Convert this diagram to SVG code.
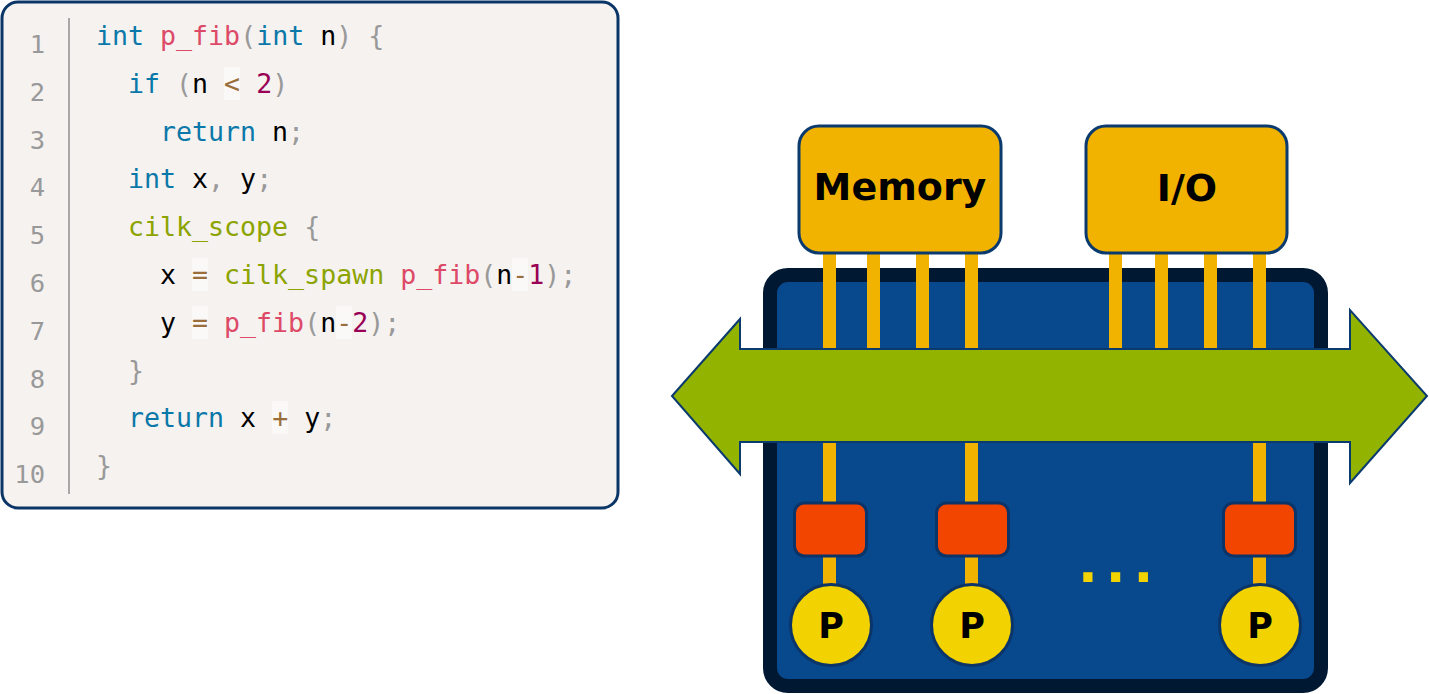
<svg xmlns="http://www.w3.org/2000/svg" width="1429" height="694" viewBox="0 0 1429 694">
<style>
.code{font-family:"DejaVu Sans Mono","Liberation Mono",monospace;font-size:26.6px;fill:#000}
.ln{font-family:"DejaVu Sans Mono","Liberation Mono",monospace;font-size:25.5px;fill:#999;text-anchor:end}
.kw{fill:#0a78a8}.fn{fill:#dd4a68}.pu{fill:#999}.op{fill:#9a6e3a}.nu{fill:#990055}.ck{fill:#8da400}
.hl{fill:#ffffff;fill-opacity:0.55}
.pin{fill:#f2b300}
.box{fill:#f2b300;stroke:#0a3a6e;stroke-width:3}
.lbl{font-family:"DejaVu Sans",sans-serif;font-weight:bold;font-size:38px;fill:#000;text-anchor:middle}
.cache{fill:#f24500;stroke:#0b3468;stroke-width:3}
.cpu{fill:#f2d200;stroke:#0b3468;stroke-width:3}
.p{font-family:"DejaVu Sans",sans-serif;font-weight:bold;font-size:35px;fill:#000;text-anchor:middle}
</style>
<g id="code">
<rect x="2" y="2" width="616" height="506" rx="16" fill="#f5f2f0" stroke="#0a3566" stroke-width="3"/>
<line x1="69" y1="18" x2="69" y2="494" stroke="#a8a8a8" stroke-width="2"/>
<g>
<text class="ln" x="45" y="53">1</text>
<text class="ln" x="45" y="101">2</text>
<text class="ln" x="45" y="149">3</text>
<text class="ln" x="45" y="196">4</text>
<text class="ln" x="45" y="244">5</text>
<text class="ln" x="45" y="292">6</text>
<text class="ln" x="45" y="340">7</text>
<text class="ln" x="45" y="388">8</text>
<text class="ln" x="45" y="435">9</text>
<text class="ln" x="45" y="483">10</text>
</g>
<rect class="hl" x="224" y="67" width="16" height="33"/>
<rect class="hl" x="192" y="258" width="16" height="33"/>
<rect class="hl" x="512" y="258" width="16" height="33"/>
<rect class="hl" x="192" y="306" width="16" height="33"/>
<rect class="hl" x="336" y="306" width="16" height="33"/>
<rect class="hl" x="272" y="401" width="16" height="33"/>
<text class="code" xml:space="preserve" x="96" y="45"><tspan class="kw">int</tspan> <tspan class="fn">p_fib</tspan><tspan class="pu">(</tspan><tspan class="kw">int</tspan> n<tspan class="pu">)</tspan> <tspan class="pu">{</tspan></text>
<text class="code" xml:space="preserve" x="128" y="93"><tspan class="kw">if</tspan> <tspan class="pu">(</tspan>n <tspan class="op">&lt;</tspan> <tspan class="nu">2</tspan><tspan class="pu">)</tspan></text>
<text class="code" xml:space="preserve" x="160" y="141"><tspan class="kw">return</tspan> n<tspan class="pu">;</tspan></text>
<text class="code" xml:space="preserve" x="128" y="188"><tspan class="kw">int</tspan> x<tspan class="pu">,</tspan> y<tspan class="pu">;</tspan></text>
<text class="code" xml:space="preserve" x="128" y="236"><tspan class="ck">cilk_scope</tspan> <tspan class="pu">{</tspan></text>
<text class="code" xml:space="preserve" x="160" y="284">x <tspan class="op">=</tspan> <tspan class="ck">cilk_spawn</tspan> <tspan class="fn">p_fib</tspan><tspan class="pu">(</tspan>n<tspan class="op">-</tspan><tspan class="nu">1</tspan><tspan class="pu">)</tspan><tspan class="pu">;</tspan></text>
<text class="code" xml:space="preserve" x="160" y="332">y <tspan class="op">=</tspan> <tspan class="fn">p_fib</tspan><tspan class="pu">(</tspan>n<tspan class="op">-</tspan><tspan class="nu">2</tspan><tspan class="pu">)</tspan><tspan class="pu">;</tspan></text>
<text class="code" xml:space="preserve" x="128" y="380"><tspan class="pu">}</tspan></text>
<text class="code" xml:space="preserve" x="128" y="427"><tspan class="kw">return</tspan> x <tspan class="op">+</tspan> y<tspan class="pu">;</tspan></text>
<text class="code" xml:space="preserve" x="96" y="475"><tspan class="pu">}</tspan></text>
</g>
<g id="chip">
<rect x="770" y="275" width="551" height="411" rx="18" fill="#08488c" stroke="#011833" stroke-width="14"/>
</g>
<g id="connectors">
<rect class="pin" x="823" y="252" width="13" height="98"/>
<rect class="pin" x="867" y="252" width="13" height="98"/>
<rect class="pin" x="916" y="252" width="13" height="98"/>
<rect class="pin" x="965" y="252" width="13" height="98"/>
<rect class="pin" x="1109" y="252" width="13" height="98"/>
<rect class="pin" x="1155" y="252" width="13" height="98"/>
<rect class="pin" x="1204" y="252" width="13" height="98"/>
<rect class="pin" x="1253" y="252" width="13" height="98"/>
<rect class="pin" x="823" y="440" width="13" height="150"/>
<rect class="pin" x="965" y="440" width="13" height="150"/>
<rect class="pin" x="1253" y="440" width="13" height="150"/>
</g>
<g id="memory">
<rect class="box" x="799" y="126" width="202" height="127" rx="20"/>
<text class="lbl" x="900" y="200">Memory</text>
</g>
<g id="io">
<rect class="box" x="1086" y="126" width="201" height="127" rx="20"/>
<text class="lbl" x="1187" y="201">I/O</text>
</g>
<g id="bus">
<path d="M672,396 L740,319 L740,349 L1350,349 L1350,310 L1427,396 L1350,483 L1350,442 L740,442 L740,474 Z" fill="#92b300" stroke="#0a3a6e" stroke-width="2" stroke-linejoin="miter"/>
</g>
<g id="cache1"><rect class="cache" x="794.5" y="503" width="72" height="53" rx="10"/></g>
<g id="cache2"><rect class="cache" x="936.5" y="503" width="72" height="53" rx="10"/></g>
<g id="cache3"><rect class="cache" x="1223.5" y="503" width="72" height="53" rx="10"/></g>
<g id="p1"><circle class="cpu" cx="831" cy="625" r="40.5"/><text class="p" x="831" y="638">P</text></g>
<g id="p2"><circle class="cpu" cx="972" cy="625" r="40.5"/><text class="p" x="972" y="638">P</text></g>
<g id="p3"><circle class="cpu" cx="1260" cy="625" r="40.5"/><text class="p" x="1260" y="638">P</text></g>
<g id="ellipsis"><text x="1078" y="582" font-family="DejaVu Sans, sans-serif" font-weight="bold" font-size="52" fill="#f2d200" letter-spacing="8">...</text></g>
</svg>
